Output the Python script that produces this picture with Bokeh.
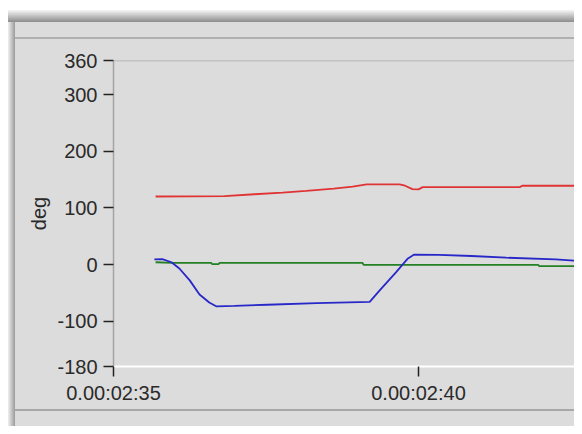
from bokeh.plotting import figure
from bokeh.models import FixedTicker, Span, Range1d
from bokeh.embed import file_html
from bokeh.resources import INLINE

# ---- data (time in seconds, value in deg) ----
red_t = [155.69, 156.82, 157.31, 157.77, 158.16, 158.61, 158.92, 159.15, 159.69, 159.78, 159.90,
         160.00, 160.07, 161.66, 161.70, 162.67]
red_v = [120, 120.5, 124, 127, 130, 134, 137.5, 141.5, 141.5, 139, 133, 132.5, 136.5, 136.5, 139, 139]

blue_t = [155.67, 155.80, 155.95, 156.08, 156.25, 156.41, 156.57, 156.69, 156.98, 157.52, 158.33,
          159.20, 159.36, 159.63, 159.82, 159.93, 160.34, 160.87, 161.44, 162.25, 162.67]
blue_v = [9, 9.5, 4, -7, -28, -53, -67, -74, -73, -71, -68, -66, -46, -14, 10, 17.5, 17, 15, 12, 9, 6]

green_t = [155.69, 155.97, 156.60, 156.62, 156.72, 156.74, 159.08, 159.10, 161.96, 161.98, 162.67]
green_v = [4, 3, 3, 0.5, 0.5, 3, 3, -0.5, -0.5, -3, -3]

x_ticks = [155, 160]
x_tick_labels = ["0.00:02:35", "0.00:02:40"]
y_ticks = [-180, -100, 0, 100, 200, 300, 360]
y_tick_labels = ["-180", "-100", "0", "100", "200", "300", "360"]
y_label = "deg"

W, H = 574, 426
BG = "#dcdcdc"
FONT = "Liberation Sans"
FS = "20px"

p = figure(width=W, height=H, output_backend="svg", toolbar_location=None,
           x_range=Range1d(155, 155 + (W - 113) / 61.0), y_range=Range1d(-180, 360),
           min_border_left=113, min_border_top=60, min_border_bottom=60, min_border_right=0,
           background_fill_color=BG, border_fill_color=None, outline_line_color=None)

p.line(red_t, red_v, line_color="#e03434", line_width=1.8)
p.line(green_t, green_v, line_color="#238023", line_width=1.8)
p.line(blue_t, blue_v, line_color="#2828c8", line_width=1.8)

p.xgrid.visible = False
p.ygrid.visible = False

xa = p.xaxis[0]
xa.ticker = FixedTicker(ticks=x_ticks)
xa.major_label_overrides = {t: l for t, l in zip(x_ticks, x_tick_labels)}
xa.axis_line_color = "white"
xa.axis_line_width = 2
xa.major_tick_in = 0
xa.major_tick_out = 10
xa.major_tick_line_color = "#222222"
xa.major_tick_line_width = 1.5
xa.minor_tick_line_color = None
xa.major_label_standoff = 5
xa.major_label_text_font = FONT
xa.major_label_text_font_size = FS
xa.major_label_text_color = "#2a2a2a"

ya = p.yaxis[0]
ya.ticker = FixedTicker(ticks=y_ticks)
ya.major_label_overrides = {t: l for t, l in zip(y_ticks, y_tick_labels)}
ya.axis_line_color = "#a4a4a4"
ya.axis_line_width = 1.5
ya.major_tick_in = 0
ya.major_tick_out = 10
ya.major_tick_line_color = "#222222"
ya.major_tick_line_width = 1.5
ya.minor_tick_line_color = None
ya.major_label_standoff = 6
ya.major_label_text_font = FONT
ya.major_label_text_font_size = FS
ya.major_label_text_color = "#2a2a2a"
ya.axis_label = y_label
ya.axis_label_text_font = FONT
ya.axis_label_text_font_size = FS
ya.axis_label_text_font_style = "normal"
ya.axis_label_text_color = "#2a2a2a"
ya.axis_label_standoff = 4

p.add_layout(Span(location=360, dimension="width", line_color="#a8a8a8", line_width=1.5))

# window chrome drawn as the figure's CSS background (visible through the transparent border)
chrome = ", ".join([
    "linear-gradient(#ffffff,#ffffff) 0px 0px/100% 10px no-repeat",
    "linear-gradient(#ffffff,#ffffff) 0px 0px/8px 100% no-repeat",
    "linear-gradient(to bottom,#f6f6f6,#8c8c8c) 8px 10px/100% 12px no-repeat",
    "linear-gradient(to right,#f0f0f0,#9a9a9a) 8px 10px/7px 100% no-repeat",
    "linear-gradient(#b0b0b0,#b0b0b0) 15px 37px/100% 2px no-repeat",
    "linear-gradient(#a8a8a8,#a8a8a8) 15px 409px/100% 2px no-repeat",
    BG,
])
p.styles = {"background": chrome}

open("out.html", "w").write(file_html(p, INLINE))
